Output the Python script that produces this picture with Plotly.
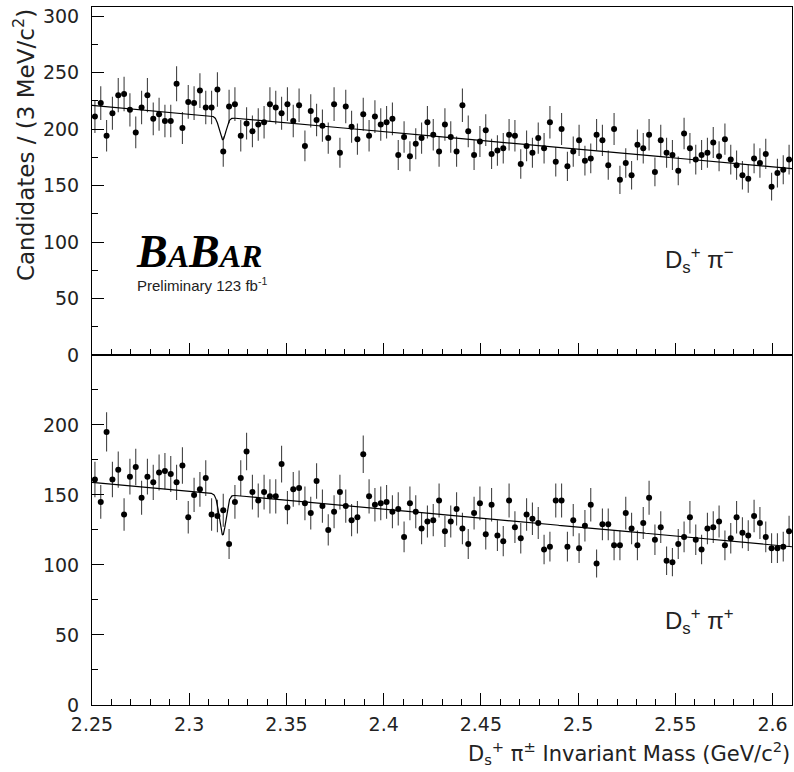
import numpy as np
import plotly.graph_objects as go
from plotly.subplots import make_subplots

# ---------------- data ----------------
BIN_LO = 2.25
BIN_W = 0.003
N_BINS = 120

top_counts = [211, 223, 194, 214, 230, 231, 217, 197, 219, 230,
              209, 213, 207, 207, 240, 201, 224, 223, 234, 219,
              219, 235, 180, 220, 222, 194, 205, 198, 204, 206,
              222, 219, 214, 222, 207, 221, 185, 216, 208, 203,
              192, 222, 179, 220, 202, 191, 213, 194, 211, 204,
              206, 209, 177, 193, 176, 187, 192, 206, 195, 180,
              204, 193, 180, 221, 198, 177, 189, 199, 178, 181,
              183, 195, 194, 169, 185, 179, 192, 183, 206, 171,
              200, 167, 180, 190, 172, 174, 195, 190, 168, 200,
              155, 170, 159, 186, 183, 195, 162, 190, 179, 177,
              163, 196, 183, 173, 177, 179, 188, 176, 191, 173,
              168, 159, 156, 174, 170, 178, 149, 161, 164, 173]

bottom_counts = [161, 145, 195, 161, 168, 136, 163, 170, 148, 163,
                 159, 166, 167, 165, 159, 171, 134, 150, 154, 162,
                 136, 135, 139, 115, 145, 162, 181, 152, 146, 152,
                 149, 149, 172, 141, 154, 155, 144, 137, 160, 142,
                 125, 138, 152, 142, 132, 134, 179, 149, 143, 144,
                 145, 138, 140, 120, 144, 138, 126, 131, 132, 146,
                 124, 131, 140, 126, 115, 137, 144, 122, 143, 121,
                 117, 146, 127, 119, 136, 133, 130, 111, 113, 146,
                 146, 113, 132, 112, 128, 143, 101, 129, 129, 114,
                 114, 137, 126, 114, 130, 148, 118, 127, 103, 102,
                 115, 120, 134, 118, 111, 126, 127, 131, 114, 119,
                 134, 123, 121, 135, 130, 120, 112, 112, 113, 124]

# fit parameters (linear background + narrow gaussian at 2.317)
fit_top = dict(a_lo=221.0, a_hi=165.0, depth=20.0, mean=2.3172, sigma=0.0017)
fit_bottom = dict(a_lo=159.0, a_hi=113.0, depth=29.0, mean=2.3172, sigma=0.0017)

X_RANGE = [2.25, 2.61]

mass = BIN_LO + BIN_W * (np.arange(N_BINS) + 0.5)


def fit_curve(p, x):
    bg = p["a_lo"] + (p["a_hi"] - p["a_lo"]) * (x - X_RANGE[0]) / (X_RANGE[1] - X_RANGE[0])
    return bg - p["depth"] * np.exp(-0.5 * ((x - p["mean"]) / p["sigma"]) ** 2)


xf = np.linspace(X_RANGE[0], X_RANGE[1], 3000)

FONT = "DejaVu Sans"
TXT = "#222222"

fig = make_subplots(rows=2, cols=1, shared_xaxes=True, vertical_spacing=0,
                    row_heights=[348, 350])

for row, counts, fp in [(1, top_counts, fit_top), (2, bottom_counts, fit_bottom)]:
    c = np.array(counts, dtype=float)
    fig.add_trace(go.Scatter(
        x=mass, y=c, mode="markers",
        marker=dict(color="black", size=6),
        error_y=dict(type="data", array=np.sqrt(c), width=0, thickness=1.1, color="#444444"),
        showlegend=False, hoverinfo="skip"), row=row, col=1)
    fig.add_trace(go.Scatter(
        x=xf, y=fit_curve(fp, xf), mode="lines",
        line=dict(color="black", width=1.2),
        showlegend=False, hoverinfo="skip"), row=row, col=1)

xaxis_common = dict(range=X_RANGE, showline=True, linecolor="black", linewidth=1, mirror=True,
                    ticks="inside", ticklen=12, tickwidth=1, tickcolor="black",
                    tick0=2.25, dtick=0.05, automargin=False,
                    minor=dict(dtick=0.01, ticklen=6, ticks="inside", tickcolor="black", tickwidth=1),
                    showgrid=False, zeroline=False,
                    tickfont=dict(family=FONT, size=19, color=TXT))
fig.update_xaxes(**xaxis_common)
fig.update_xaxes(showticklabels=False, row=1, col=1)
fig.update_xaxes(ticklabelstandoff=2, row=2, col=1)

yaxis_common = dict(showline=True, linecolor="black", linewidth=1, mirror=True,
                    ticks="inside", ticklen=12, tickwidth=1, tickcolor="black",
                    tick0=0, dtick=50, automargin=False,
                    minor=dict(dtick=25, ticklen=6, ticks="inside", tickcolor="black", tickwidth=1),
                    showgrid=False, zeroline=False, ticklabelstandoff=8,
                    tickfont=dict(family=FONT, size=19, color=TXT))
fig.update_yaxes(**yaxis_common)
fig.update_yaxes(range=[0, 308], row=1, col=1)
fig.update_yaxes(range=[0, 249.9], row=2, col=1)

annotations = [
    dict(text="Candidates / (3 MeV/c<sup>2</sup>)", xref="paper", yref="paper",
         x=-0.097, y=1.0, xanchor="center", yanchor="top", textangle=-90,
         showarrow=False, font=dict(family=FONT, size=23, color=TXT)),
    dict(text="D<sub>s</sub><sup>+</sup> π<sup>±</sup> Invariant Mass (GeV/c<sup>2</sup>)",
         xref="paper", yref="paper", x=1.0, y=-0.069, xanchor="right", yanchor="middle",
         showarrow=False, font=dict(family=FONT, size=21, color=TXT)),
    dict(text="<b><i>B<span style='font-size:32px'>A</span>B<span style='font-size:32px'>AR</span></i></b>",
         xref="x", yref="y", x=2.2715, y=92, xanchor="left", yanchor="middle",
         showarrow=False, font=dict(family="Liberation Serif", size=46, color="black")),
    dict(text="Preliminary 123 fb<sup>-1</sup>", xref="x", yref="y",
         x=2.2722, y=62, xanchor="left", yanchor="middle",
         showarrow=False, font=dict(family="Liberation Sans", size=15, color=TXT)),
    dict(text="D<sub>s</sub><sup>+</sup> π<sup>−</sup>", xref="x", yref="y",
         x=2.5435, y=84, xanchor="left", yanchor="middle",
         showarrow=False, font=dict(family="Liberation Sans", size=24, color=TXT)),
    dict(text="D<sub>s</sub><sup>+</sup> π<sup>+</sup>", xref="x2", yref="y2",
         x=2.5435, y=60, xanchor="left", yanchor="middle",
         showarrow=False, font=dict(family="Liberation Sans", size=24, color=TXT)),
]

fig.update_layout(width=794, height=772, margin=dict(l=92, r=2, t=7, b=67),
                  paper_bgcolor="white", plot_bgcolor="white",
                  annotations=annotations, showlegend=False)

fig.write_html("out.html", config={"displayModeBar": False},
               post_script="document.body.style.margin='0px';document.body.style.padding='0px';")
